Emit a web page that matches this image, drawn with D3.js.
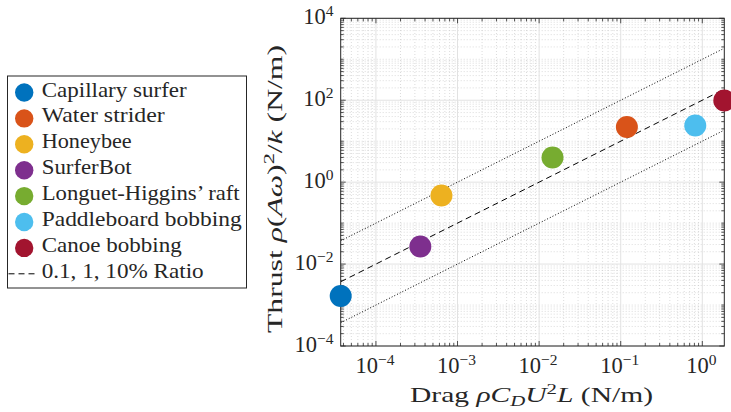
<!DOCTYPE html>
<html>
<head>
<meta charset="utf-8">
<script src="https://cdn.jsdelivr.net/npm/d3@7.9.0/dist/d3.min.js"></script>
<style>
  body { margin: 0; background: #fff; }
  svg text { font-family: "Liberation Serif", "DejaVu Serif", serif; fill: #262626; }
</style>
</head>
<body>
<svg id="chart" width="731" height="412"></svg>
<script>
// data
const names = ['Capillary surfer', 'Water strider', 'Honeybee', 'SurferBot',
  "Longuet-Higgins\u2019 raft", 'Paddleboard bobbing', 'Canoe bobbing'];
const colors = ['#0072BD', '#D95319', '#EDB120', '#7E2F8E', '#77AC30', '#4DBEEE', '#A2142F'];
const drag = [3.7e-5, 0.119, 6.35e-4, 3.5e-4, 0.0146, 0.82, 1.86];
const thrust = [1.66e-3, 22.3, 0.47, 0.027, 3.98, 24.2, 98];
const ratios = [10, 100, 1000]; // thrust = ratio * drag
const ratioLabel = '0.1, 1, 10% Ratio';
const xTicks = [1e-4, 1e-3, 1e-2, 1e-1, 1];
const yTicks = [1e-4, 1e-2, 1, 1e2, 1e4];

const svg = d3.select('#chart');
const W = 731, H = 412;
const margin = { top: 18.3, right: W - 724.3, bottom: H - 346, left: 340.7 };

const x = d3.scaleLog().domain([drag[0], drag[6]]).range([margin.left, W - margin.right]);
const y = d3.scaleLog().domain([1e-4, 1e4]).range([H - margin.bottom, margin.top]);

const [x0, x1] = x.range();
const [y0, y1] = y.range(); // y0 bottom, y1 top

svg.append('defs').append('clipPath').attr('id', 'clip')
  .append('rect').attr('x', x0).attr('y', y1).attr('width', x1 - x0).attr('height', y0 - y1);

// stretch text to the width it has in the reference (Computer Modern is wider than Times)
function fit(sel, w) {
  return sel.attr('textLength', w).attr('lengthAdjust', 'spacingAndGlyphs');
}

// minor values between majors
function minors(lo, hi, majors) {
  const out = [];
  for (let e = Math.floor(Math.log10(lo)) - 1; e <= Math.ceil(Math.log10(hi)); e++) {
    for (let k = 1; k <= 9; k++) {
      const v = k * Math.pow(10, e);
      if (v >= lo * 0.999 && v <= hi * 1.001 && !majors.some(m => Math.abs(m - v) / v < 1e-6)) out.push(v);
    }
  }
  return out;
}
const xMinor = minors(x.domain()[0], x.domain()[1], xTicks);
const yMinor = minors(1e-4, 1e4, yTicks);

// grid
const grid = svg.append('g');
grid.selectAll('.xm').data(xMinor).join('line')
  .attr('x1', d => x(d)).attr('x2', d => x(d)).attr('y1', y0).attr('y2', y1)
  .attr('stroke', '#c4c4c4').attr('stroke-width', 0.6).attr('stroke-dasharray', '1,2');
grid.selectAll('.ym').data(yMinor).join('line')
  .attr('y1', d => y(d)).attr('y2', d => y(d)).attr('x1', x0).attr('x2', x1)
  .attr('stroke', '#c4c4c4').attr('stroke-width', 0.6).attr('stroke-dasharray', '1,2');
grid.selectAll('.xM').data(xTicks).join('line')
  .attr('x1', d => x(d)).attr('x2', d => x(d)).attr('y1', y0).attr('y2', y1)
  .attr('stroke', '#e2e2e2').attr('stroke-width', 1);
grid.selectAll('.yM').data(yTicks).join('line')
  .attr('y1', d => y(d)).attr('y2', d => y(d)).attr('x1', x0).attr('x2', x1)
  .attr('stroke', '#e2e2e2').attr('stroke-width', 1);

// ratio lines
const dashes = ['1,2', '6,4', '1,2'];
svg.append('g').attr('clip-path', 'url(#clip)')
  .selectAll('line').data(ratios).join('line')
  .attr('x1', x0).attr('y1', r => y(r * drag[0]))
  .attr('x2', x1).attr('y2', r => y(r * drag[6]))
  .attr('stroke', '#000').attr('stroke-width', 1)
  .attr('stroke-dasharray', (r, i) => dashes[i]);

// axes box and ticks (inside, on all four sides)
const axisColor = '#262626';
const tk = svg.append('g').attr('stroke', axisColor).attr('stroke-width', 0.8);
const maj = 5, mnr = 3;
xTicks.concat(xMinor).forEach(v => {
  const L = xTicks.includes(v) ? maj : mnr;
  tk.append('line').attr('x1', x(v)).attr('x2', x(v)).attr('y1', y0).attr('y2', y0 - L);
  tk.append('line').attr('x1', x(v)).attr('x2', x(v)).attr('y1', y1).attr('y2', y1 + L);
});
yTicks.concat(yMinor).forEach(v => {
  const L = yTicks.includes(v) ? maj : mnr;
  tk.append('line').attr('y1', y(v)).attr('y2', y(v)).attr('x1', x0).attr('x2', x0 + L);
  tk.append('line').attr('y1', y(v)).attr('y2', y(v)).attr('x1', x1).attr('x2', x1 - L);
});
svg.append('rect').attr('x', x0).attr('y', y1).attr('width', x1 - x0).attr('height', y0 - y1)
  .attr('fill', 'none').attr('stroke', axisColor).attr('stroke-width', 1);

// tick labels 10^n
function powLabel(sel, v) {
  const e = Math.round(Math.log10(v));
  sel.append('tspan').text('10');
  sel.append('tspan').attr('dy', -8).attr('font-size', 15.5).text(e < 0 ? '\u2212' + (-e) : e);
}
xTicks.forEach(v => {
  const t = svg.append('text').attr('x', x(v) - 1).attr('y', 373.3)
    .attr('text-anchor', 'middle').attr('font-size', 22.5);
  powLabel(t, v);
});
yTicks.forEach(v => {
  const t = svg.append('text').attr('x', 333.5).attr('y', y(v) + 6)
    .attr('text-anchor', 'end').attr('font-size', 22.5);
  powLabel(t, v);
});

// axis labels
const xl = svg.append('text').attr('x', 531.5).attr('y', 401.7).attr('text-anchor', 'middle').attr('font-size', 22);
xl.append('tspan').text('Drag ');
xl.append('tspan').attr('font-style', 'italic').text('\u03c1C');
xl.append('tspan').attr('font-style', 'italic').attr('font-size', 15.5).attr('dy', 4).text('D');
xl.append('tspan').attr('font-style', 'italic').attr('dy', -4).text('U');
xl.append('tspan').attr('font-size', 15.5).attr('dy', -8).text('2');
xl.append('tspan').attr('font-style', 'italic').attr('dy', 8).text('L');
xl.append('tspan').text(' (N/m)');
fit(xl, 243);

const yl = svg.append('text').attr('transform', 'translate(281.5,189) rotate(-90)')
  .attr('text-anchor', 'middle').attr('font-size', 22);
yl.append('tspan').text('Thrust ');
yl.append('tspan').attr('font-style', 'italic').text('\u03c1');
yl.append('tspan').text('(');
yl.append('tspan').attr('font-style', 'italic').text('A\u03c9');
yl.append('tspan').text(')');
yl.append('tspan').attr('font-size', 15.5).attr('dy', -8).text('2');
yl.append('tspan').attr('dy', 8).text('/');
yl.append('tspan').attr('font-style', 'italic').text('k');
yl.append('tspan').text(' (N/m)');
fit(yl, 288);

// points
svg.append('g').selectAll('circle').data(names).join('circle')
  .attr('cx', (d, i) => x(drag[i])).attr('cy', (d, i) => y(thrust[i]))
  .attr('r', 11).attr('fill', (d, i) => colors[i]);

// legend
const legendWidths = [145, 123, 90, 90, 198, 200, 140];
const lg = svg.append('g');
lg.append('rect').attr('x', 7.5).attr('y', 76).attr('width', 239).attr('height', 212)
  .attr('fill', '#fff').attr('stroke', '#262626').attr('stroke-width', 1);
const rowY = i => 92.5 + i * 25.9;
names.forEach((n, i) => {
  lg.append('circle').attr('cx', 24.2).attr('cy', rowY(i)).attr('r', 9.2).attr('fill', colors[i]);
  fit(lg.append('text').attr('x', 41.7).attr('y', rowY(i) + 4).attr('font-size', 21.5).text(n), legendWidths[i]);
});
lg.append('line').attr('x1', 8.5).attr('x2', 37).attr('y1', rowY(7)).attr('y2', rowY(7))
  .attr('stroke', '#000').attr('stroke-dasharray', '6,4');
fit(lg.append('text').attr('x', 41.7).attr('y', rowY(7) + 4).attr('font-size', 21.5).text(ratioLabel), 162);
</script>
</body>
</html>
